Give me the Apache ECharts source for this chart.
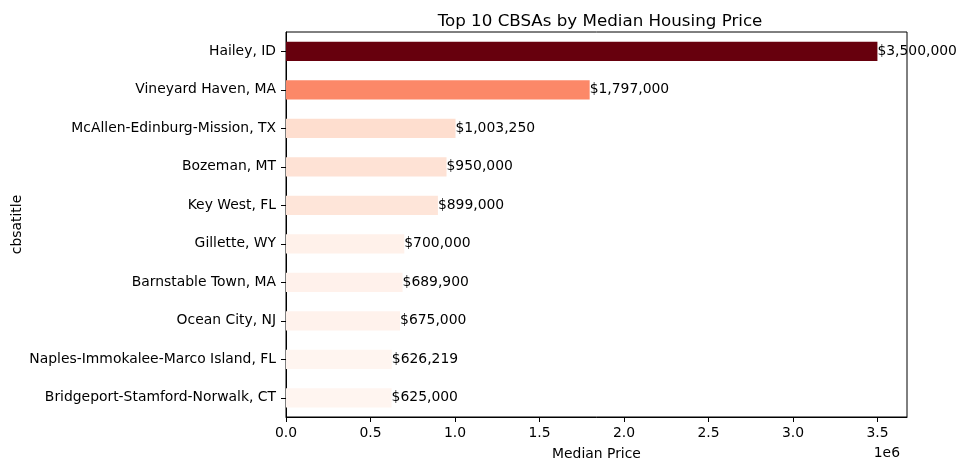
<!DOCTYPE html>
<html><head><meta charset="utf-8">
<script src="https://cdn.jsdelivr.net/npm/echarts@6/dist/echarts.min.js"></script>
<style>html,body{margin:0;padding:0;background:#fff}#c{width:965px;height:470px}</style>
</head><body><div id="c"></div>
<script>
const categories = ["Hailey, ID","Vineyard Haven, MA","McAllen-Edinburg-Mission, TX","Bozeman, MT","Key West, FL","Gillette, WY","Barnstable Town, MA","Ocean City, NJ","Naples-Immokalee-Marco Island, FL","Bridgeport-Stamford-Norwalk, CT"];
const prices = [3500000,1797000,1003250,950000,899000,700000,689900,675000,626219,625000];
const xTicks = [0,500000,1000000,1500000,2000000,2500000,3000000,3500000];

const reds = [[255,245,240],[254,224,210],[252,187,161],[252,146,114],[251,106,74],[239,59,44],[203,24,29],[165,15,21],[103,0,13]];
function redsColor(t){
  t=Math.max(0,Math.min(1,t));
  const p=t*(reds.length-1), i=Math.min(Math.floor(p),reds.length-2), f=p-i;
  const c=reds[i].map((v,k)=>Math.round(v+(reds[i+1][k]-v)*f));
  return 'rgb('+c.join(',')+')';
}
const vmin=Math.min(...prices), vmax=Math.max(...prices);
const font='DejaVu Sans';
const fs=13.9;
const chart=echarts.init(document.getElementById('c'));
chart.setOption({
  animation:false,
  textStyle:{fontFamily:font},
  title:{text:'Top 10 CBSAs by Median Housing Price',left:595,top:8,textAlign:'center',
    textStyle:{fontFamily:font,fontSize:16.7,fontWeight:'normal',color:'#000'}},
  grid:{left:286,right:58,top:32,bottom:53,outerBoundsMode:'none',containLabel:false,
    show:true,borderColor:'#000',borderWidth:1,backgroundColor:'transparent'},
  graphic:[{type:'text',right:65,top:446,style:{text:'1e6',font:fs+'px DejaVu Sans',fill:'#000'}}],
  xAxis:{type:'value',min:0,max:3675000,interval:500000,
    name:'Median Price',nameLocation:'middle',nameGap:30,
    nameTextStyle:{fontFamily:font,fontSize:fs,color:'#000'},
    axisLine:{show:true,lineStyle:{color:'#000'}},
    axisTick:{show:true,length:5,customValues:xTicks,lineStyle:{color:'#000'}},
    splitLine:{show:false},
    axisLabel:{color:'#000',fontSize:fs,fontFamily:font,margin:9,
      customValues:xTicks,formatter:v=>(v/1e6).toFixed(1)}},
  yAxis:{type:'category',data:categories,inverse:true,
    name:'cbsatitle',nameLocation:'middle',nameGap:262,nameRotate:90,nameMoveOverlap:false,
    nameTextStyle:{fontFamily:font,fontSize:fs,color:'#000'},
    axisLine:{show:true,lineStyle:{color:'#000'}},
    axisTick:{show:true,alignWithLabel:true,length:5,lineStyle:{color:'#000'}},
    axisLabel:{color:'#000',fontSize:fs,fontFamily:font,margin:10}},
  series:[{type:'bar',barWidth:'50%',
    data:prices.map(v=>({value:v,itemStyle:{color:redsColor((v-vmin)/(vmax-vmin))}})),
    label:{show:true,position:'right',distance:0,color:'#000',fontSize:fs,fontFamily:font,
      formatter:p=>'$'+p.value.toLocaleString('en-US')}}]
});
</script></body></html>
